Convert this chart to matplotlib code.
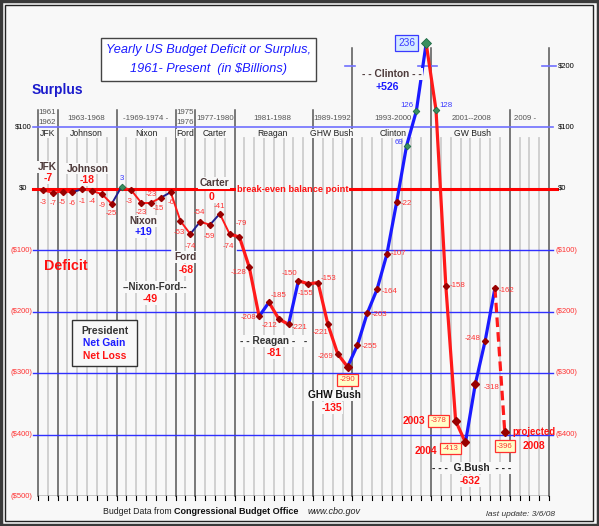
import matplotlib
matplotlib.use("Agg")
import matplotlib.pyplot as plt
import matplotlib.font_manager as fm
from matplotlib.transforms import Affine2D
from matplotlib.patches import Rectangle

# ---------------- data ----------------
years = list(range(1961, 2009))
values = [-3, -7, -5, -6, -1, -4, -9, -25,
          3, -3, -23, -23, -15, -6,
          -53, -74,
          -54, -59, -41, -74,
          -79, -128, -208, -185, -212, -221, -150, -155,
          -153, -221, -269, -290,
          -255, -203, -164, -107, -22, 69, 126, 236,
          128, -158, -378, -413, -318, -248, -162, -396]
gain_segment_starts = [1964, 1968, 1973, 1976, 1978, 1983, 1986,
                       1992, 1993, 1994, 1995, 1996, 1997, 1998, 1999,
                       2004, 2005, 2006]
projected_year = 2008
boxed_years = [1992, 2000, 2003, 2004, 2008]

term_bounds = [1960.5, 1962.5, 1968.5, 1974.5, 1976.5, 1980.5,
               1988.5, 1992.5, 2000.5, 2008.5, 2012.5]
tall_bounds = [1992.5, 2000.5, 2012.5]

left_ticks = [100, 0, -100, -200, -300, -400, -500]
left_tick_labels = ["$100", "$0", "($100)", "($200)", "($300)", "($400)", "($500)"]
right_ticks = [200, 100, 0, -100, -200, -300, -400]
right_tick_labels = ["$200", "$100", "$0", "($100)", "($200)", "($300)", "($400)"]
grid_levels = [-100, -200, -300, -400]

term_years = ["1961", "1963-1968", "-1969-1974 -", "1975", "1977-1980",
              "1981-1988", "1989-1992", "1993-2000", "2001--2008", "2009 -"]
term_years2 = {"1961": "1962", "1975": "1976"}
term_names = ["JFK", "Johnson", "Nixon", "Ford", "Carter",
              "Reagan", "GHW Bush", "Clinton", "GW Bush", ""]

pres_names = ["JFK", "Johnson", "Nixon", "Carter", "Ford", "--Nixon-Ford--",
              "- - Reagan -   -", "GHW Bush", "- - Clinton - -", "- - -  G.Bush  - - -"]
pres_totals = ["-7", "-18", "+19", "0", "-68", "-49", "-81", "-135", "+526", "-632"]

# ---------------- fonts ----------------
avail = {f.name for f in fm.fontManager.ttflist}
SANS = "Liberation Sans" if "Liberation Sans" in avail else "DejaVu Sans"
if "Liberation Sans Narrow" in avail:
    NARROW, NS = "Liberation Sans Narrow", 1.05
else:
    NARROW, NS = SANS, 0.94

RED = "#ff1a1a"
LRED = "#ff3333"
NAVY = "#202090"
BLUE = "#1a1aff"
MARK = "#990000"
BROWN = "#4d3a3a"
BG = "#f8f8f8"

W, H = 599, 526
fig = plt.figure(figsize=(W / 100, H / 100), dpi=100)
fig.patch.set_facecolor(BG)
PX = Affine2D().scale(1 / W, -1 / H).translate(0, 1) + fig.transFigure

ax = fig.add_axes([38 / W, 30 / H, 511 / W, 476 / H])
ax.set_xlim(1960.5, 2012.5)
ax.set_ylim(-500, 274)
ax.axis("off")

ypp = 774 / 476.0          # data units per pixel (y)
xpp = 52 / 511.0           # data units per pixel (x)

# ---------------- grid ----------------
b = 1960.5
while b <= 2012.5:
    if b in term_bounds:
        top = 228 if b in tall_bounds else 128
        ax.plot([b, b], [-500, top], color="#555555", lw=1.1, zorder=2, clip_on=False)
    else:
        ax.plot([b, b], [-500, 82], color="#cdcdcd", lw=1.3, zorder=1)
    ax.plot([b, b], [-500, -500 - 4 * ypp], color="black", lw=0.8, clip_on=False, zorder=2)
    b += 1
ax.plot([1960.5, 2012.5], [-500, -500], color="black", lw=1.0, zorder=2)

x_l = 1960.5 - 5 * xpp
x_r = 2012.5 + 4 * xpp
ax.plot([x_l, x_r], [100, 100], color="#7070ff", lw=1.2, zorder=3, clip_on=False)
for g in grid_levels:
    if g == -100:
        ax.plot([x_l, 1960.5 + 132 * xpp], [g, g], color="#3030ff", lw=1.0, zorder=3, clip_on=False)
        ax.plot([1960.5 + 199 * xpp, x_r], [g, g], color="#3030ff", lw=1.0, zorder=3, clip_on=False)
    else:
        ax.plot([x_l, x_r], [g, g], color="#3030ff", lw=1.0, zorder=3, clip_on=False)
# break-even line
ax.plot([x_l, 1960.5 + 196 * xpp], [0, 0], color="#ff0000", lw=2.2, zorder=3, clip_on=False)
ax.plot([1960.5 + 312 * xpp, 2012.5 + 8 * xpp], [0, 0], color="#ff0000", lw=2.2, zorder=3, clip_on=False)
# $200 dashes
for a0, a1 in [(307, 317), (380, 399), (504, 518)]:
    ax.plot([1960.5 + a0 * xpp, 1960.5 + a1 * xpp], [200, 200], color="#7070ff", lw=1.2, zorder=3, clip_on=False)

# ---------------- series ----------------
for i in range(len(years) - 1):
    y0 = years[i]
    gain = y0 in gain_segment_starts
    early = y0 < 1980
    if gain:
        c = NAVY if early else BLUE
    else:
        c = RED
    ls = "--" if years[i + 1] == projected_year else "-"
    ax.plot([years[i], years[i + 1]], [values[i], values[i + 1]], color=c,
            lw=1.4 if early else 2.3, ls=ls, zorder=5, solid_capstyle="round",
            dashes=(3, 1.6) if ls == "--" else (None, None))

for yr, v in zip(years, values):
    if v > 0:
        ms = 5.5 if v > 200 else 3.4
        ax.plot(yr, v, marker="D", ms=ms, color="#3a8f5f", mec="#1f6b45", mew=0.6, zorder=6)
    else:
        ms = 4.2 if yr in (1992, 2003, 2004, 2005, 2008) else 3.1
        ax.plot(yr, v, marker="D", ms=ms, color=MARK, mec=MARK, zorder=6)

# label offsets (px right, px down, alignment)
offs = {
    1961: (0, 12, "center"), 1962: (0, 11, "center"), 1963: (0, 11, "center"),
    1964: (0, 11, "center"), 1965: (0, 12, "center"), 1966: (0, 11, "center"),
    1967: (0, 11, "center"), 1968: (0, 10, "center"), 1969: (0, -8, "center"),
    1970: (-2, 11, "center"), 1971: (0, 10, "center"), 1972: (0, -8, "center"),
    1973: (-2, 11, "center"), 1974: (0, 10, "center"), 1975: (-1, 11, "center"),
    1976: (0, 12, "center"), 1977: (-1, -9, "center"), 1978: (-1, 12, "center"),
    1979: (0, -7, "center"), 1980: (-1, 12, "center"), 1981: (2, -14, "center"),
    1982: (-3, 5, "right"), 1983: (-3, 1, "right"), 1984: (2, -7, "left"),
    1985: (-1, 7, "right"), 1986: (3, 3, "left"), 1987: (-1, -7, "right"),
    1988: (-3, 10, "center"), 1989: (3, -4, "left"), 1990: (1, 8, "right"),
    1991: (-4, 3, "right"), 1992: (0, 13, "center"), 1993: (4, 1, "left"),
    1994: (4, 1, "left"), 1995: (5, 2, "left"), 1996: (4, -1, "left"),
    1997: (4, 1, "left"), 1998: (-3, -4, "right"), 1999: (-3, -6, "right"),
    2000: (-11, 0, "right"), 2001: (3, -4, "left"), 2002: (4, 0, "left"),
    2003: (-9, 0, "right"), 2004: (-7, 6, "right"), 2005: (8, 3, "left"),
    2006: (-4, -3, "right"), 2007: (4, 2, "left"), 2008: (0, 14, "center"),
}
for yr, v in zip(years, values):
    dx, dy, ha = offs[yr]
    col = "#3a3aff" if v > 0 else LRED
    kw = {}
    if yr in boxed_years:
        if v > 0:
            kw["bbox"] = dict(boxstyle="square,pad=0.3", fc="#d4eaff", ec="#3a3aff", lw=0.9)
        else:
            kw["bbox"] = dict(boxstyle="square,pad=0.3", fc="#ffffc8", ec="#ff3030", lw=0.9)
    fs = (7.8 if v > 200 else 6.0) * NS
    ax.annotate(str(v), (yr, v), xytext=(dx, -dy), textcoords="offset pixels",
                ha=ha, va="center", fontsize=fs, color=col, family=NARROW,
                zorder=7, annotation_clip=False, **kw)


def T(x, y, s, **kw):
    kw.setdefault("family", SANS)
    kw.setdefault("ha", "center")
    kw.setdefault("va", "center")
    return fig.text(x, y, s, transform=PX, **kw)


# ---------------- term headers ----------------
hdr_x = [47.5, 86, 146, 185, 215, 272, 332, 393, 472, 525]
for x, s, n in zip(hdr_x, term_years, term_names):
    if s in term_years2:
        T(x, 113, s, fontsize=6.0 * NS, family=NARROW, color="#555555")
        T(x, 123, term_years2[s], fontsize=6.0 * NS, family=NARROW, color="#555555")
    else:
        T(x, 119, s, fontsize=6.0 * NS, family=NARROW, color="#555555")
    if n:
        T(x, 133.5, n, fontsize=6.6 * NS, family=NARROW, color="#222222",
          bbox=dict(boxstyle="square,pad=0.05", fc=BG, ec="none"))

# ---------------- axis labels ----------------
for v, s in zip(left_ticks, left_tick_labels):
    py = 188.5 - v * 0.615
    c = "black" if v >= 0 else LRED
    if s == "$0":
        T(23.5, py, s, fontsize=5.9 * NS, family=NARROW, color=c)
    else:
        T(32, py, s, fontsize=5.9 * NS, family=NARROW, color=c, ha="right")
for v, s in zip(right_ticks, right_tick_labels):
    py = 188.5 - v * 0.615
    c = "black" if v >= 0 else LRED
    T(556 if v < 0 else 558, py, s, fontsize=5.9 * NS, family=NARROW, color=c, ha="left")

# ---------------- titles & annotations ----------------
fig.patches.append(Rectangle((101, 38), 215, 43, transform=PX, fc="white", ec="#444444", lw=1.0))
T(208.5, 50, "Yearly US Budget Deficit or Surplus,", fontsize=9.2, style="italic", color="#1a1aff")
T(208.5, 69, "1961- Present  (in $Billions)", fontsize=9.2, style="italic", color="#1a1aff")
T(57, 90, "Surplus", fontsize=9.9, weight="bold", color="#1a1acc")
T(66, 266, "Deficit", fontsize=10.3, weight="bold", color="#ff1111")
T(237, 190, "break-even balance point", fontsize=6.7, weight="bold", color="#ff1111", ha="left")

abox = dict(boxstyle="square,pad=0.08", fc=BG, ec="none")
name_pos = [(47, 167), (88, 168.5), (143, 221), (214, 183), (186, 257), (155, 287),
            (274, 341), (334, 395.5), (392, 74), (472, 468)]
tot_pos = [(48, 178), (87, 180), (143, 232), (212, 197), (186, 270), (150, 299),
           (274, 353.5), (332, 408), (387, 86.5), (470, 481)]
name_cols = [BROWN, BROWN, BROWN, BROWN, BROWN, "#333333", "#333333", "#111111", BROWN, "#222222"]
for (nx, ny), (tx, ty), nm, tot, nc in zip(name_pos, tot_pos, pres_names, pres_totals, name_cols):
    fsn = 7.3 if nm not in ("--Nixon-Ford--",) else 7.0
    T(nx, ny, nm, fontsize=fsn, weight="bold", color=nc, bbox=abox)
    tc = "#1a1aff" if tot.startswith("+") else "#ff1111"
    T(tx, ty, tot, fontsize=7.6, weight="bold", color=tc, bbox=abox)

T(414, 421, "2003", fontsize=7.4, weight="bold", color="#ff1111")
T(426, 451, "2004", fontsize=7.4, weight="bold", color="#ff1111")
T(512, 432, "projected", fontsize=6.9, weight="bold", color="#ff1111", ha="left")
T(534, 446, "2008", fontsize=7.4, weight="bold", color="#ff1111")

# legend box
fig.patches.append(Rectangle((72, 320), 65, 46, transform=PX, fc=BG, ec="#333333", lw=1.0))
T(104.5, 331, "President", fontsize=7.4, weight="bold", color="#333333")
T(104.5, 343.5, "Net Gain", fontsize=7.4, weight="bold", color="#1a1aff")
T(104.5, 356, "Net Loss", fontsize=7.4, weight="bold", color="#ff1111")

# footer
T(103, 511, "Budget Data from", fontsize=6.3, color="#222222", ha="left")
T(174, 511, "Congressional Budget Office", fontsize=6.5, weight="bold", color="#111111", ha="left")
T(308, 511, "www.cbo.gov", fontsize=6.5, style="italic", color="#222222", ha="left")
T(486, 514, "last update: 3/6/08", fontsize=6.0, style="italic", color="#333333", ha="left")

# outer frame
fig.patches.append(Rectangle((1, 1), 597, 524, transform=PX, fc="none", ec="#3a3a3a", lw=2.5))
fig.patches.append(Rectangle((5, 5), 588, 516, transform=PX, fc="none", ec="#222222", lw=1.0))

fig.savefig("out.png", dpi=100, facecolor=BG)
